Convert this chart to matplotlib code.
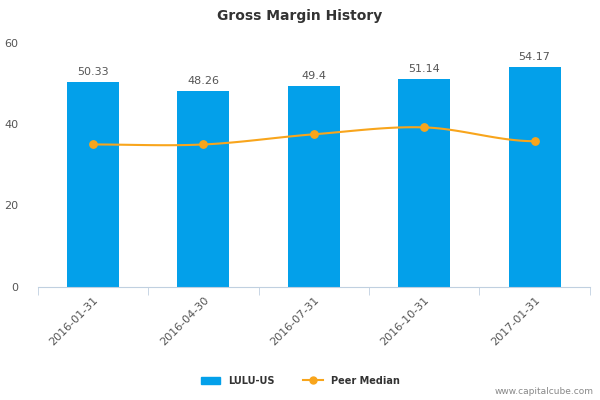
import numpy as np
import matplotlib
matplotlib.use('Agg')
import matplotlib.pyplot as plt
from matplotlib.lines import Line2D
from matplotlib.patches import Patch

# ── data ─────────────────────────────────────────────────────────────────────
dates = ['2016-01-31', '2016-04-30', '2016-07-31', '2016-10-31', '2017-01-31']
lulu = [50.33, 48.26, 49.4, 51.14, 54.17]
lulu_labels = ['50.33', '48.26', '49.4', '51.14', '54.17']
peer = [35.0, 35.0, 37.5, 39.2, 35.8]

BAR_C = '#03a0ea'
LINE_C = '#f8a51c'
TXT_C = '#555555'


def smooth(xs, ys, n=30):
    """Cubic Hermite curve through the points (for drawing only)."""
    xs, ys = np.asarray(xs, float), np.asarray(ys, float)
    m = np.gradient(ys, xs)
    m[0] = m[-1] = 0
    px, py = [], []
    for i in range(len(xs) - 1):
        t = np.linspace(0, 1, n)
        h = xs[i + 1] - xs[i]
        h00 = 2*t**3 - 3*t**2 + 1
        h10 = t**3 - 2*t**2 + t
        h01 = -2*t**3 + 3*t**2
        h11 = t**3 - t**2
        px.append(xs[i] + t*h)
        py.append(h00*ys[i] + h10*h*m[i] + h01*ys[i+1] + h11*h*m[i+1])
    return np.concatenate(px), np.concatenate(py)


fig = plt.figure(figsize=(6, 4), dpi=100)
ax = fig.add_axes([0.063, 0.283, 0.92, 0.61])
x = np.arange(len(dates))

ax.bar(x, lulu, width=0.47, color=BAR_C, zorder=2)
for xi, v, lab in zip(x, lulu, lulu_labels):
    ax.text(xi, v + 1.2, lab, ha='center', va='bottom', fontsize=8, color=TXT_C)

sx, sy = smooth(x, peer)
ax.plot(sx, sy, color=LINE_C, lw=1.5, zorder=3)
ax.scatter(x, peer, color=LINE_C, s=28, zorder=4)

ax.set_xlim(-0.5, len(dates) - 0.5)
ax.set_ylim(0, 60)
ax.set_yticks([0, 20, 40, 60])
ax.tick_params(axis='y', length=0, labelsize=8, labelcolor=TXT_C, pad=14)
ax.set_xticks(x)
ax.set_xticklabels(dates, rotation=45, ha='right', rotation_mode='anchor',
                   fontsize=8, color=TXT_C)
ax.tick_params(axis='x', length=0, pad=6)
ax.set_xticks(np.arange(-0.5, len(dates)), minor=True)
ax.tick_params(axis='x', which='minor', length=6, color='#c0d0e0')
for s in ['top', 'right', 'left']:
    ax.spines[s].set_visible(False)
ax.spines['bottom'].set_color('#c0d0e0')

fig.text(0.5, 0.96, 'Gross Margin History', ha='center', va='center',
         fontsize=10, fontweight='bold', color='#333333')

handles = [Patch(color=BAR_C, label='LULU-US'),
           Line2D([0], [0], color=LINE_C, marker='o', markersize=5, lw=1.5,
                  label='Peer Median')]
fig.legend(handles=handles, loc='center', bbox_to_anchor=(0.5, 0.048), ncol=2,
           frameon=False, prop={'size': 7, 'weight': 'bold'}, labelcolor='#333333',
           handlelength=2, columnspacing=3)
fig.text(0.99, 0.02, 'www.capitalcube.com', ha='right', va='center',
         fontsize=6.5, color='#888888')

fig.savefig('out.png', dpi=100)
